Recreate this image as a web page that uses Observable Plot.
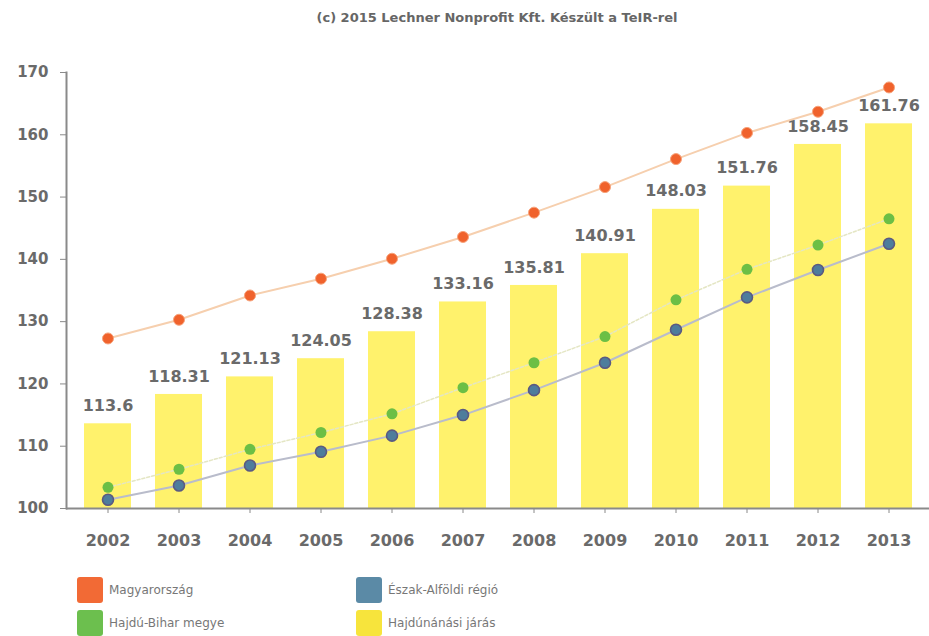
<!DOCTYPE html>
<html>
<head>
<meta charset="utf-8">
<script src="https://cdn.jsdelivr.net/npm/d3@7"></script>
<script src="https://cdn.jsdelivr.net/npm/@observablehq/plot@0.6"></script>
<style>
  html, body { margin: 0; padding: 0; background: #fff; }
  body { width: 929px; height: 636px; overflow: hidden; font-family: "DejaVu Sans", sans-serif; }
  #title { height: 36px; line-height: 36px; text-align: center; font-size: 13px; font-weight: bold; color: #666; padding-left: 65px; box-sizing: border-box; }
  #legend { position: relative; height: 70px; margin-top: 11px; }
  .item { position: absolute; display: flex; align-items: center; font-size: 12px; color: #777; }
  .sw { width: 26px; height: 26px; border-radius: 3px; margin-right: 6px; }
</style>
</head>
<body>
<div id="title">(c) 2015 Lechner Nonprofit Kft. Készült a TeIR-rel</div>
<div id="chart"></div>
<div id="legend"></div>
<script>
const years = ["2002","2003","2004","2005","2006","2007","2008","2009","2010","2011","2012","2013"];
const jarasValues = [113.6, 118.31, 121.13, 124.05, 128.38, 133.16, 135.81, 140.91, 148.03, 151.76, 158.45, 161.76];
const magyarorszag = [127.3, 130.3, 134.2, 136.9, 140.1, 143.6, 147.5, 151.6, 156.1, 160.3, 163.7, 167.6];
const hajduBihar = [103.4, 106.3, 109.5, 112.2, 115.2, 119.4, 123.4, 127.6, 133.5, 138.4, 142.3, 146.5];
const eszakAlfold = [101.4, 103.7, 106.9, 109.1, 111.7, 115.0, 119.0, 123.4, 128.7, 133.9, 138.3, 142.5];
const yTicks = [100, 110, 120, 130, 140, 150, 160, 170];
const seriesNames = ["Magyarország", "Észak-Alföldi régió", "Hajdú-Bihar megye", "Hajdúnánási járás"];
const seriesColors = ["#f26a35", "#5b8aa6", "#6cbf4e", "#f7e43c"];

const bars = years.map((y, i) => ({year: y, value: jarasValues[i]}));
const orange = years.map((y, i) => ({year: y, value: magyarorszag[i]}));
const green = years.map((y, i) => ({year: y, value: hajduBihar[i]}));
const blue = years.map((y, i) => ({year: y, value: eszakAlfold[i]}));

const chart = Plot.plot({
  width: 929,
  height: 530,
  marginTop: 36,
  marginBottom: 58,
  marginLeft: 66,
  marginRight: 0,
  style: {fontFamily: "DejaVu Sans, sans-serif", background: "#fff"},
  x: {type: "band", domain: years, paddingInner: 0.345, paddingOuter: 0.1725},
  y: {domain: [100, 170]},
  marks: [
    Plot.barY(bars, {x: "year", y1: 100, y2: "value", fill: "#fff26c"}),
    Plot.text(bars, {x: "year", y: "value", text: d => String(d.value), dy: -18, fontSize: 16, fontWeight: "bold", fill: "#6a6a6a"}),
    Plot.line(orange, {x: "year", y: "value", stroke: "#f6cfae", strokeWidth: 2}),
    Plot.line(green, {x: "year", y: "value", stroke: "#e4e6c4", strokeWidth: 1.5, strokeDasharray: "3,2"}),
    Plot.line(blue, {x: "year", y: "value", stroke: "#b9bccb", strokeWidth: 2}),
    Plot.dot(orange, {x: "year", y: "value", r: 5.5, fill: "#f0622c", stroke: "#f7a27a", strokeWidth: 1}),
    Plot.dot(green, {x: "year", y: "value", r: 5.5, fill: "#6cbf45"}),
    Plot.dot(blue, {x: "year", y: "value", r: 5.5, fill: "#4e7d9c", stroke: "#5a5a82", strokeWidth: 1.6}),
    Plot.ruleY([100], {stroke: "#8a8a8a", strokeWidth: 2}),
    Plot.frame({anchor: "left", stroke: "#8a8a8a", strokeWidth: 2}),
    Plot.axisY({ticks: yTicks, tickSize: 6, tickPadding: 12, fontSize: 15, fontWeight: "bold", fill: "#6a6a6a", stroke: "#8a8a8a", label: null, tickFormat: d => String(d)}),
    Plot.axisX({tickSize: 5, tickPadding: 21, fontSize: 16, fontWeight: "bold", fill: "#6a6a6a", stroke: "#8a8a8a", label: null})
  ]
});
document.getElementById("chart").appendChild(chart);

const legend = document.getElementById("legend");
const positions = [[77, 0], [356, 0], [77, 33], [356, 33]];
seriesNames.forEach((name, i) => {
  const div = document.createElement("div");
  div.className = "item";
  div.style.left = positions[i][0] + "px";
  div.style.top = positions[i][1] + "px";
  const sw = document.createElement("div");
  sw.className = "sw";
  sw.style.background = seriesColors[i];
  const label = document.createElement("span");
  label.textContent = name;
  div.appendChild(sw);
  div.appendChild(label);
  legend.appendChild(div);
});
</script>
</body>
</html>
